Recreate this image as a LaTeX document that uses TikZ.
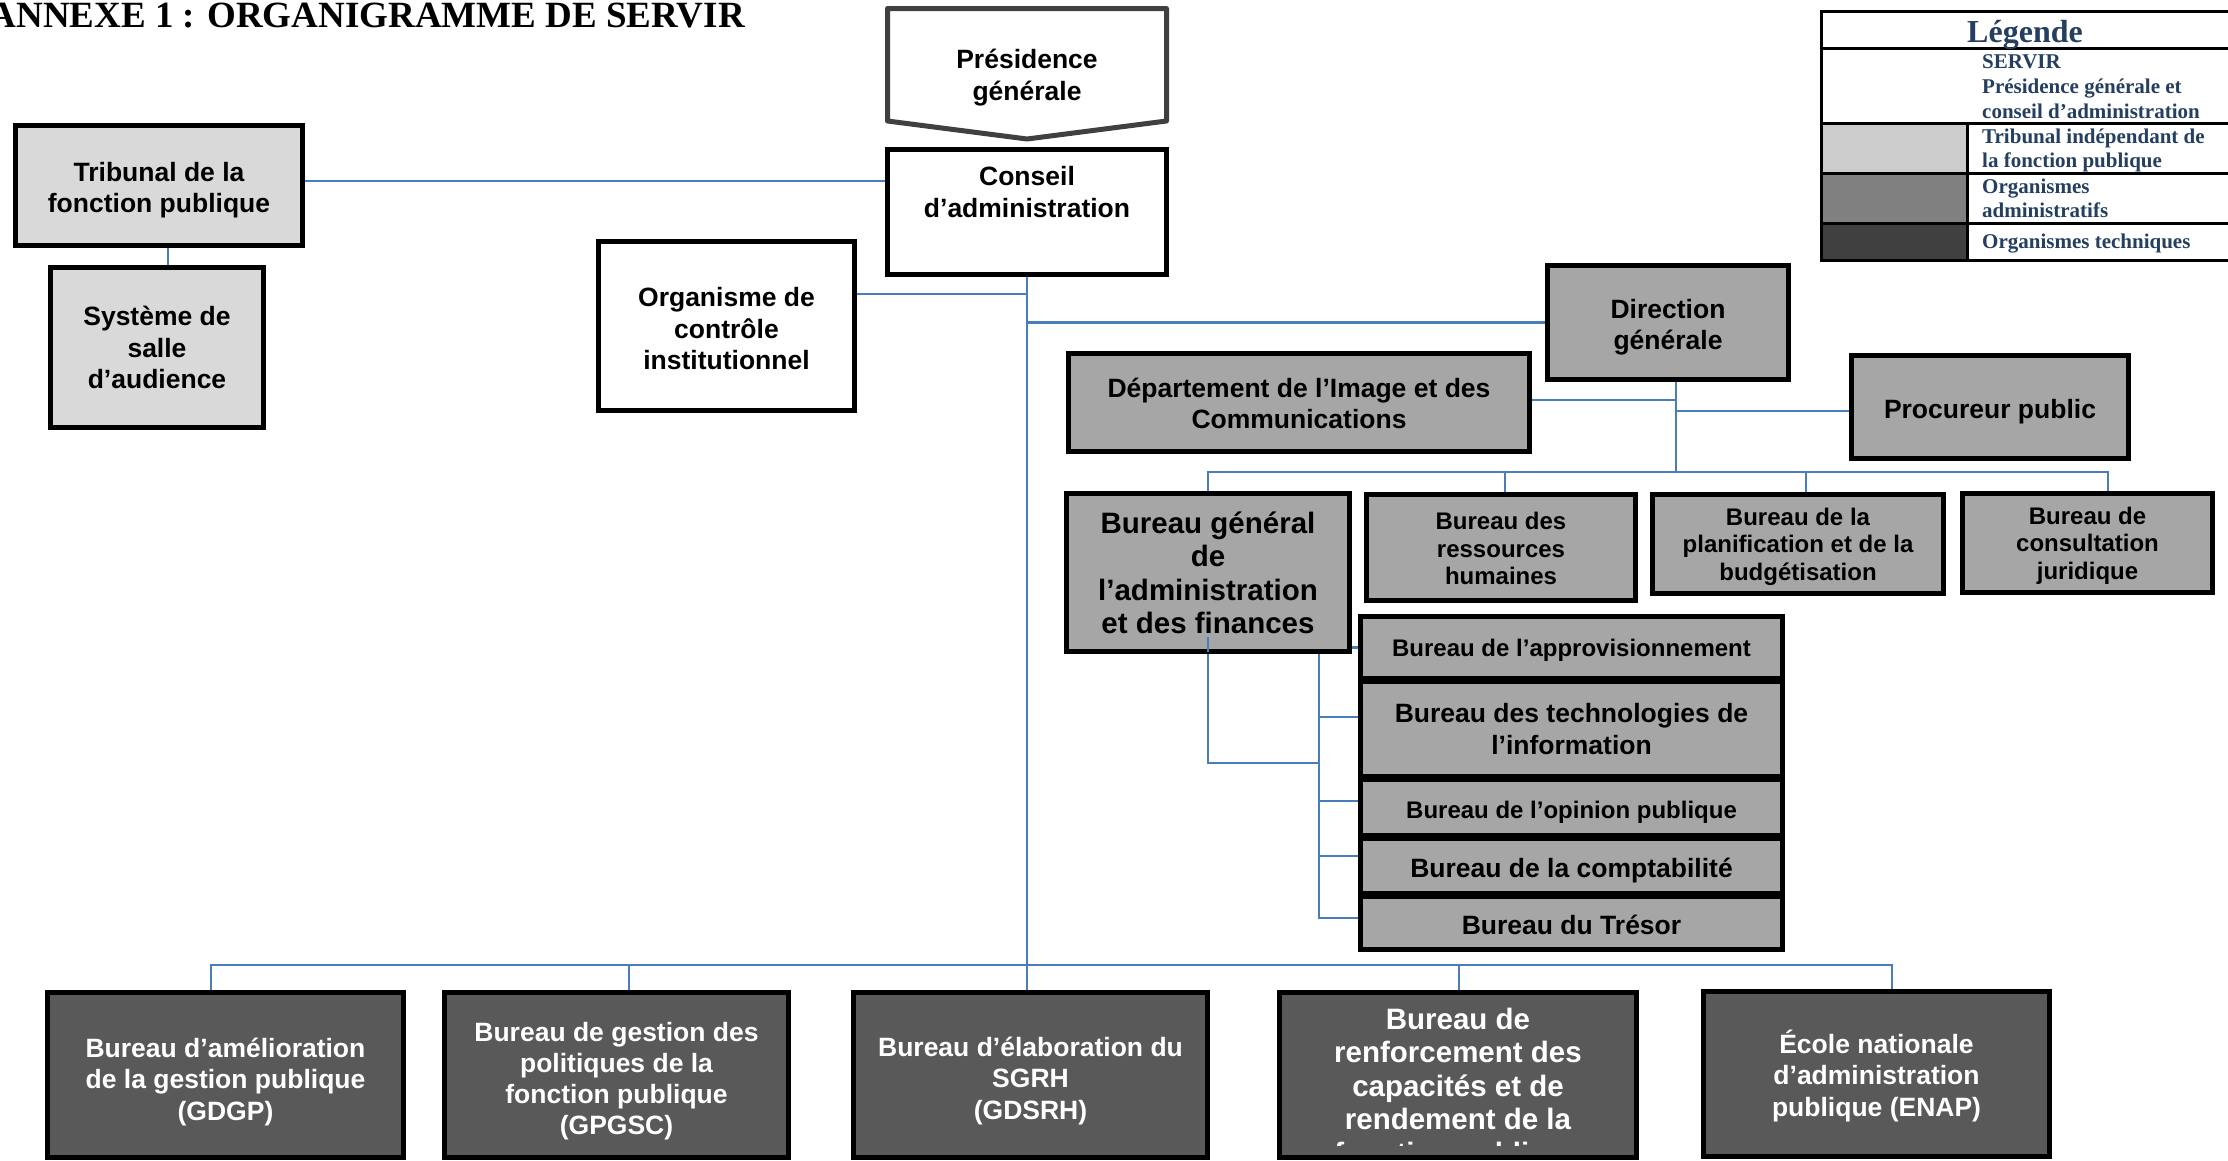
\documentclass[tikz,border=0pt]{standalone}
\usepackage{fontspec}
\setmainfont{Liberation Sans}
\newfontfamily\tnr{Liberation Serif}
\pgfdeclarelayer{bg}
\pgfsetlayers{bg,main}
\definecolor{lgray}{HTML}{D9D9D9}
\definecolor{mgray}{HTML}{A6A6A6}
\definecolor{dgray}{HTML}{595959}
\definecolor{swA}{HTML}{CCCCCC}
\definecolor{swB}{HTML}{808080}
\definecolor{swC}{HTML}{404040}
\definecolor{presline}{HTML}{404040}
\definecolor{connblue}{HTML}{4A7EBB}
\definecolor{legtxt}{HTML}{243F60}
\newcommand\fszA{\fontsize{26.5}{31.5}\selectfont}
\newcommand\fszB{\fontsize{29.5}{33.5}\selectfont}
\newcommand\fszC{\fontsize{24}{27.5}\selectfont}
\newcommand\fszD{\fontsize{26.5}{31}\selectfont}
\newcommand\fszL{\fontsize{21}{25}\selectfont}
\tikzset{
  wh/.style 2 args={minimum width=#1pt, minimum height=#2pt},
  box/.style={draw=black, line width=5pt, rectangle, inner sep=0pt},
  lbox/.style={box, fill=lgray},
  abox/.style={box, fill=mgray},
  tbox/.style={box, fill=dgray},
  wbox/.style={box, fill=white},
  txt/.style={inner sep=0pt, align=center, font=\bfseries\fszA},
  wtxt/.style={txt, text=white},
  conn/.style={draw=connblue, line width=2.2pt},
  leg/.style={inner sep=0pt, anchor=base west, text=legtxt, font=\tnr\bfseries\fszL},
}
\begin{document}
\begin{tikzpicture}[x=1pt,y=-1pt]
\useasboundingbox (0,0) rectangle (2228,1160);
\begin{pgfonlayer}{bg}
\fill[white] (0,0) rectangle (2228,1160);
\end{pgfonlayer}

% title
\node[anchor=base east, inner sep=0pt, font=\tnr\bfseries\fontsize{37}{44}\selectfont] (title) at (745,27) {ANNEXE 1 : ORGANIGRAMME DE SERVIR};

% top
\draw[line width=5pt, draw=presline, line join=round, fill=white] (887.5,8.5) -- (1166.5,8.5) -- (1166.5,121) -- (1027,139) -- (887.5,121) -- cycle;
\node[txt] (pres) at (1027,77.5) {Présidence\\générale};
\node[wbox, wh={279}{125}] (ca) at (1027,212) {};
\node[txt] (caT) at (1027,192) {Conseil\\d’administration};

\node[lbox, wh={287}{120}] (trib) at (159,185.5) {};
\node[txt] (tribT) at (159,190) {Tribunal de la\\fonction publique};
\node[lbox, wh={213}{160}] (sys) at (157,347.5) {};
\node[txt] (sysT) at (157,347.5) {Système de\\salle\\d’audience};
\node[wbox, wh={256}{169}] (oci) at (726.5,326) {};
\node[txt] (ociT) at (726.5,329) {Organisme de\\contrôle\\institutionnel};

\node[abox, wh={241}{114}] (dg) at (1668,322.5) {};
\node[txt] (dgT) at (1668,327) {Direction\\générale};
\node[abox, wh={461}{98}] (dic) at (1299,402.5) {};
\node[txt] (dicT) at (1299,403.5) {Département de l’Image et des\\Communications};
\node[abox, wh={277}{103}] (pp) at (1990,407) {};
\node[txt] (ppT) at (1990,411.5) {Procureur public};

\node[abox, wh={283}{158}] (bgaf) at (1208,572.5) {};
\node[txt, font=\bfseries\fszB] (bgafT) at (1208,573) {Bureau général\\de\\l’administration\\et des finances};
\node[abox, wh={269}{106}] (brh) at (1501,547.5) {};
\node[txt, font=\bfseries\fszC] (brhT) at (1501,548.5) {Bureau des\\ressources\\humaines};
\node[abox, wh={291}{99}] (bpb) at (1798,544) {};
\node[txt, font=\bfseries\fszC] (bpbT) at (1798,546.5) {Bureau de la\\planification et de la\\budgétisation};
\node[abox, wh={250}{99}] (bcj) at (2087.5,543) {};
\node[txt, font=\bfseries\fszC] (bcjT) at (2087.5,545.5) {Bureau de\\consultation\\juridique};

\node[abox, wh={422}{62}] (bap) at (1571.5,647.5) {};
\node[txt, font=\bfseries\fszC] (bapT) at (1571.5,650.5) {Bureau de l’approvisionnement};
\node[abox, wh={422}{95}] (bti) at (1571.5,729) {};
\node[txt] (btiT) at (1571.5,729) {Bureau des technologies de\\l’information};
\node[abox, wh={422}{56}] (bop) at (1571.5,807.5) {};
\node[txt, font=\bfseries\fszC] (bopT) at (1571.5,812) {Bureau de l’opinion publique};
\node[abox, wh={422}{55}] (bco) at (1571.5,866) {};
\node[txt] (bcoT) at (1571.5,870.5) {Bureau de la comptabilité};
\node[abox, wh={422}{53}] (btr) at (1571.5,923) {};
\node[txt] (btrT) at (1571.5,925) {Bureau du Trésor};

% bottom
\node[tbox, wh={356}{165}] (gdgp) at (225.5,1075) {};
\node[wtxt] (gdgpT) at (225.5,1082) {Bureau d’amélioration\\de la gestion publique\\(GDGP)};
\node[tbox, wh={344}{165}] (gpgsc) at (616.5,1075) {};
\node[wtxt, font=\bfseries\fszD] (gpgscT) at (616.5,1081.5) {Bureau de gestion des\\politiques de la\\fonction publique\\(GPGSC)};
\node[tbox, wh={354}{165}] (gdsrh) at (1030.5,1075) {};
\node[wtxt] (gdsrhT) at (1030.5,1081) {Bureau d’élaboration du\\SGRH\\(GDSRH)};
\node[tbox, wh={357}{165}] (brc) at (1458,1075) {};
\begin{scope}
\clip (1280,990) rectangle (1636,1145);
\node[wtxt, font=\bfseries\fszB] (brcT) at (1458,1088.5) {Bureau de\\renforcement des\\capacités et de\\rendement de la\\fonction publique};
\end{scope}
\node[tbox, wh={346}{165}] (enap) at (1876.5,1074) {};
\node[wtxt] (enapT) at (1876.5,1075.5) {École nationale\\d’administration\\publique (ENAP)};

% connectors
\coordinate (busT) at (1676,472);
\coordinate (spJ) at (1319,763);
\coordinate (busB) at (1027,965);
\begin{pgfonlayer}{bg}
\draw[conn] ([yshift=4.5pt]trib.east) -- ([yshift=4.5pt]trib.east -| ca.west);
\draw[conn] ([xshift=9pt]trib.south) -- ([xshift=9pt]trib.south |- sys.north);
\draw[conn] (ca.south) -- (ca.south |- gdsrh.north);
\draw[conn] ([yshift=32pt]oci.east) -- ([yshift=32pt]oci.east -| ca.south);
\draw[conn] (dg.west) -- (dg.west -| ca.south);
\draw[conn] ([xshift=8pt]dg.south) -- (busT);
\draw[conn] ([yshift=2.5pt]dic.east) -- ([yshift=2.5pt]dic.east -| busT);
\draw[conn] ([yshift=-4pt]pp.west) -- ([yshift=-4pt]pp.west -| busT);
\draw[conn] (bgaf.north) |- (busT);
\draw[conn] ([xshift=20.5pt]bcj.north) |- (busT);
\draw[conn] ([xshift=4pt]brh.north) -- ([xshift=4pt]brh.north |- busT);
\draw[conn] ([xshift=8pt]bpb.north) -- ([xshift=8pt]bpb.north |- busT);
\draw[conn] (bgaf.south) |- (spJ);
\draw[conn] (bap.west) -| (spJ);
\draw[conn] ([yshift=5pt]btr.west) -| (spJ);
\draw[conn] ([yshift=12pt]bti.west) -- ([yshift=12pt]bti.west -| spJ);
\draw[conn] ([yshift=6.5pt]bop.west) -- ([yshift=6.5pt]bop.west -| spJ);
\draw[conn] ([yshift=10pt]bco.west) -- ([yshift=10pt]bco.west -| spJ);
\draw[conn] ([xshift=-14.5pt]gdgp.north) |- (busB);
\draw[conn] ([xshift=15.5pt]enap.north) |- (busB);
\draw[conn] ([xshift=12.5pt]gpgsc.north) -- ([xshift=12.5pt]gpgsc.north |- busB);
\draw[conn] ([xshift=1pt]brc.north) -- ([xshift=1pt]brc.north |- busB);
\end{pgfonlayer}
\draw[conn] ([yshift=17pt]bgaf.south) -- ([yshift=2.5pt]bgaf.south);

% legend
\fill[swA] (1820,123) rectangle (1967,173);
\fill[swB] (1820,173) rectangle (1967,223);
\fill[swC] (1820,223) rectangle (1967,262);
\draw[line width=3pt] (1821.5,11.5) rectangle (2240,260.5);
\draw[line width=3pt] (1820,48) -- (2240,48);
\draw[line width=3pt] (1820,123) -- (2240,123);
\draw[line width=3pt] (1820,173) -- (2240,173);
\draw[line width=3pt] (1820,223) -- (2240,223);
\draw[line width=3pt] (1967,123) -- (1967,262);
\node[anchor=base, inner sep=0pt, text=legtxt, font=\tnr\bfseries\fontsize{32}{38}\selectfont] (legT) at (2025,42) {Légende};
\node[leg] (l1) at (1982,68) {SERVIR};
\node[leg] (l2) at (1982,93) {Présidence générale et};
\node[leg] (l3) at (1982,118) {conseil d’administration};
\node[leg] (l4) at (1982,143) {Tribunal indépendant de};
\node[leg] (l5) at (1982,167) {la fonction publique};
\node[leg] (l6) at (1982,193) {Organismes};
\node[leg] (l7) at (1982,217) {administratifs};
\node[leg] (l8) at (1982,248) {Organismes techniques};
\end{tikzpicture}
\end{document}
